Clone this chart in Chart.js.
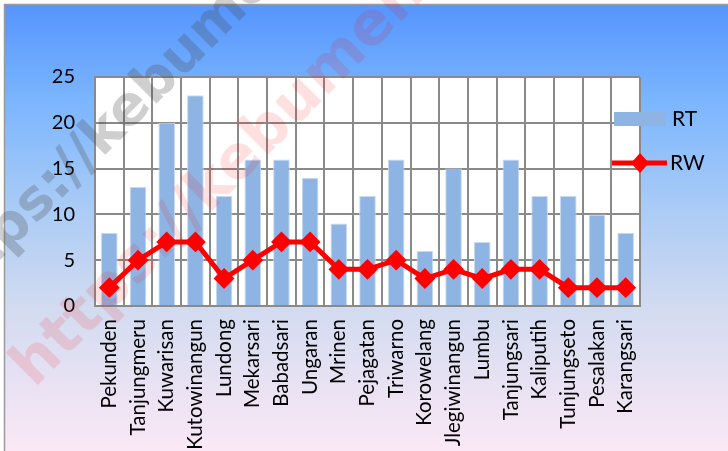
<!DOCTYPE html>
<html>
<head>
<meta charset="utf-8">
<script src="https://cdn.jsdelivr.net/npm/chart.js@4.4.1/dist/chart.umd.min.js"></script>
<style>
  html, body { margin: 0; padding: 0; background: #fff; }
  #wrap { width: 728px; height: 451px; position: relative; }
</style>
</head>
<body>
<div id="wrap"><canvas id="chart" width="728" height="451"></canvas></div>
<script>
// data
const desa = ["Pekunden", "Tanjungmeru", "Kuwarisan", "Kutowinangun", "Lundong", "Mekarsari",
  "Babadsari", "Ungaran", "Mrinen", "Pejagatan", "Triwarno", "Korowelang", "Jlegiwinangun",
  "Lumbu", "Tanjungsari", "Kaliputih", "Tunjungseto", "Pesalakan", "Karangsari"];
const rt = [8, 13, 20, 23, 12, 16, 16, 14, 9, 12, 16, 6, 15, 7, 16, 12, 12, 10, 8];
const rw = [2, 5, 7, 7, 3, 5, 7, 7, 4, 4, 5, 3, 4, 3, 4, 4, 2, 2, 2];
const yTicks = [0, 5, 10, 15, 20, 25];
const watermark = "https://kebumenkab.go.id";

const labelFont = "Lato";

// background gradient, frame and white plot area
const bgPlugin = {
  id: "bg",
  beforeDraw(chart) {
    const ctx = chart.ctx;
    const a = chart.chartArea;
    ctx.save();
    ctx.fillStyle = "#ffffff";
    ctx.fillRect(0, 0, chart.width, chart.height);
    var g = ctx.createLinearGradient(0, 5, 0, chart.height);
    g.addColorStop(0, "#5595fd");
    g.addColorStop(0.22, "#7cb6fe");
    g.addColorStop(0.45, "#a9cbf6");
    g.addColorStop(0.68, "#d2dbf0");
    g.addColorStop(1, "#fbe8f6");
    ctx.fillStyle = g;
    ctx.fillRect(5, 5, chart.width - 5, chart.height - 5);
    ctx.strokeStyle = "#9a9a9a";
    ctx.lineWidth = 1.5;
    ctx.beginPath();
    ctx.moveTo(4.5, chart.height);
    ctx.lineTo(4.5, 4.5);
    ctx.lineTo(chart.width, 4.5);
    ctx.stroke();
    ctx.fillStyle = "#ffffff";
    ctx.fillRect(a.left, a.top, a.right - a.left, a.bottom - a.top);
    ctx.restore();
  }
};

// faint diagonal watermark, anchored on one letter
function drawMark(ctx, text, idx, cx, cy, size, color) {
  ctx.save();
  ctx.font = "bold " + size + "px 'DejaVu Sans'";
  var w0 = ctx.measureText(text.slice(0, idx)).width;
  var cw = ctx.measureText(text[idx]).width;
  ctx.translate(cx, cy);
  ctx.rotate(-Math.PI / 4);
  ctx.fillStyle = color;
  ctx.textBaseline = "alphabetic";
  ctx.fillText(text, -(w0 + cw / 2), size * 0.27);
  ctx.restore();
}

// legend drawn by hand, it sits over the right edge of the plot
const legendPlugin = {
  id: "handLegend",
  afterDraw(chart) {
    const ctx = chart.ctx;
    const rtSet = chart.data.datasets[1];
    const rwSet = chart.data.datasets[0];
    ctx.save();
    ctx.fillStyle = rtSet.backgroundColor;
    ctx.fillRect(614, 112, 52, 14);
    ctx.strokeStyle = rwSet.borderColor;
    ctx.lineWidth = 5;
    ctx.beginPath();
    ctx.moveTo(612, 163);
    ctx.lineTo(667, 163);
    ctx.stroke();
    ctx.fillStyle = rwSet.borderColor;
    ctx.beginPath();
    ctx.moveTo(640, 153);
    ctx.lineTo(649, 163);
    ctx.lineTo(640, 173);
    ctx.lineTo(631, 163);
    ctx.closePath();
    ctx.fill();
    ctx.fillStyle = "#000000";
    ctx.font = "21px " + labelFont;
    ctx.textBaseline = "middle";
    ctx.fillText(rtSet.label, 672, 119);
    ctx.fillText(rwSet.label, 670, 163);
    ctx.restore();

    drawMark(ctx, watermark, 4, 36, 203, 55, "rgba(70,70,70,0.26)");
    drawMark(ctx, watermark, 0, 38, 362, 60, "rgba(255,0,0,0.12)");
  }
};

const ctx = document.getElementById("chart").getContext("2d");
const chart = new Chart(ctx, {
  type: "bar",
  data: {
    labels: desa,
    datasets: [
      {
        type: "line",
        label: "RW",
        data: rw,
        borderColor: "#ff0000",
        backgroundColor: "#ff0000",
        borderWidth: 5,
        pointStyle: "rectRot",
        pointRadius: 9,
        pointBorderWidth: 2,
        tension: 0,
        order: 0
      },
      {
        label: "RT",
        data: rt,
        backgroundColor: "#8eb4e3",
        borderColor: "#c9dbf1",
        borderWidth: 1,
        barPercentage: 0.58,
        categoryPercentage: 1,
        order: 1
      }
    ]
  },
  options: {
    responsive: false,
    animation: false,
    layout: { padding: { left: 30, top: 77, right: 88, bottom: 0 } },
    plugins: {
      legend: { display: false },
      tooltip: { enabled: false }
    },
    scales: {
      x: {
        offset: true,
        grid: { offset: true, color: "#8a8a8a", lineWidth: 2, drawTicks: false },
        border: { color: "#8a8a8a", width: 2 },
        ticks: {
          color: "#000",
          font: { family: labelFont, size: 20.5 },
          maxRotation: 90,
          minRotation: 90,
          autoSkip: false,
          padding: 13
        },
        afterFit(scale) { scale.height = 145; }
      },
      y: {
        min: 0,
        max: 25,
        afterBuildTicks(scale) { scale.ticks = yTicks.map(v => ({ value: v })); },
        grid: { color: "#8a8a8a", lineWidth: 2, drawTicks: false },
        border: { color: "#8a8a8a", width: 2 },
        ticks: {
          color: "#000",
          font: { family: labelFont, size: 20 },
          padding: 20
        },
        afterFit(scale) { scale.width = 65; }
      }
    }
  },
  plugins: [bgPlugin, legendPlugin]
});
</script>
</body>
</html>
